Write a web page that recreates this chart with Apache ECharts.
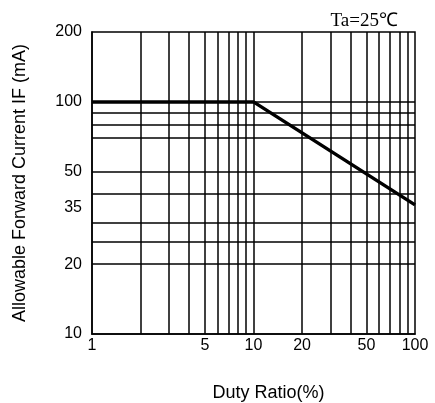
<!DOCTYPE html>
<html>
<head>
<meta charset="utf-8">
<script src="https://cdn.jsdelivr.net/npm/echarts@6/dist/echarts.min.js"></script>
<style>
  html, body { margin: 0; padding: 0; background: #fff; }
  #chart { width: 435px; height: 403px; }
</style>
</head>
<body>
<div id="chart"></div>
<script>
// curve: duty ratio (%) -> allowable forward current (mA)
const dutyRatio = [1, 10, 100]
const currentIF = [100, 100, 36]

// tick labels
const xTickLabels = [1, 5, 10, 20, 50, 100]
const yTickLabels = [10, 20, 35, 50, 100, 200]

// grid lines inside the plot
const xGridValues = [2, 3, 4, 5, 6, 7, 8, 9, 10, 20, 30, 40, 50, 60, 70, 80, 90]
const yGridValues = [20, 25, 30, 40, 50, 70, 80, 90, 100]

const chart = echarts.init(document.getElementById('chart'))

const labelFont = 'Liberation Sans, Arial, sans-serif'

const gridLines = xGridValues.map(v => ({ xAxis: v }))
  .concat(yGridValues.map(v => ({ yAxis: v })))

const option = {
  animation: false,
  title: {
    text: 'Ta=25℃',
    right: 32,
    top: 7,
    textStyle: {
      fontFamily: 'Liberation Serif, Times New Roman, serif',
      fontSize: 19,
      fontWeight: 'normal',
      color: '#000'
    }
  },
  grid: {
    left: 92,
    right: 20,
    top: 32,
    bottom: 69,
    outerBoundsMode: 'none',
    show: true,
    borderColor: '#000',
    borderWidth: 1.5
  },
  xAxis: {
    type: 'log',
    logBase: 10,
    min: 1,
    max: 100,
    name: 'Duty Ratio(%)',
    nameLocation: 'middle',
    nameGap: 50,
    nameTextStyle: {
      fontFamily: labelFont,
      fontSize: 18,
      color: '#000',
      padding: [0, 0, 0, 30]
    },
    axisLine: { show: true, lineStyle: { color: '#000', width: 1.5 } },
    axisTick: { show: false },
    splitLine: { show: false },
    axisLabel: {
      customValues: xTickLabels,
      margin: 4,
      fontFamily: labelFont,
      fontSize: 16,
      color: '#000'
    }
  },
  yAxis: {
    type: 'log',
    logBase: 10,
    min: 10,
    max: 200,
    name: 'Allowable Forward Current IF (mA)',
    nameLocation: 'middle',
    nameGap: 63,
    nameTextStyle: {
      fontFamily: labelFont,
      fontSize: 18,
      color: '#000'
    },
    axisLine: { show: true, lineStyle: { color: '#000', width: 1.5 } },
    axisTick: { show: false },
    splitLine: { show: false },
    axisLabel: {
      customValues: yTickLabels,
      margin: 10,
      fontFamily: labelFont,
      fontSize: 16,
      color: '#000'
    }
  },
  series: [
    {
      type: 'line',
      data: dutyRatio.map((d, i) => [d, currentIF[i]]),
      symbol: 'none',
      lineStyle: { color: '#000', width: 3.5 },
      z: 5,
      markLine: {
        silent: true,
        symbol: 'none',
        label: { show: false },
        lineStyle: { color: '#000', width: 1.5, type: 'solid' },
        data: gridLines
      }
    }
  ]
}

chart.setOption(option)
</script>
</body>
</html>
